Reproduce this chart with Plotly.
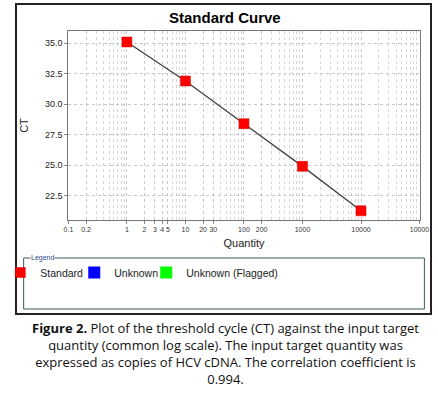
import plotly.graph_objects as go

# ---- data ----
quantity = [1, 10, 100, 1000, 10000]
ct = [35.1, 31.9, 28.4, 24.9, 21.25]
x_tickvals = [0.1, 0.2, 1, 2, 3, 4, 5, 10, 20, 30, 100, 200, 1000, 10000, 100000]
x_ticktext = ["0.1", "0.2", "1", "2", "3", "4", "5", "10", "20", "30", "100", "200", "1000", "10000", "10000"]
y_tickvals = [22.5, 25.0, 27.5, 30.0, 32.5, 35.0]
legend_names = ["Standard", "Unknown", "Unknown (Flagged)"]
legend_colors = ["#ff0000", "#0000ff", "#00ff00"]

W, H = 438, 393

def px(x):
    return x / W

def py(y):
    return (H - y) / H

minor_x = [m * 10 ** e for e in range(-1, 5) for m in range(2, 10)]

fig = go.Figure()

# regression line
fig.add_trace(go.Scatter(
    x=quantity, y=ct, mode="lines",
    line=dict(color="#404040", width=1.3),
    showlegend=False, hoverinfo="skip",
))
# standard points
fig.add_trace(go.Scatter(
    x=quantity, y=ct, mode="markers", name=legend_names[0], legend="legend",
    marker=dict(symbol="square", size=10, color=legend_colors[0],
                line=dict(color="#dd0000", width=0.5)),
))
for name, col, lg in zip(legend_names[1:], legend_colors[1:], ["legend2", "legend3"]):
    fig.add_trace(go.Scatter(
        x=[None], y=[None], mode="markers", name=name, legend=lg,
        marker=dict(symbol="square", size=12, color=col),
    ))
# invisible trace on the frame axes so the outer frame subplot is drawn
fig.add_trace(go.Scatter(x=[None], y=[None], xaxis="x2", yaxis="y2",
                         showlegend=False, hoverinfo="skip"))

fig.update_layout(
    xaxis=dict(
        type="log", range=[-1, 5],
        domain=[px(58), px(419)],
        tickmode="array", tickvals=x_tickvals, ticktext=x_ticktext, tickangle=0,
        tickfont=dict(family="Liberation Sans, Arial", size=7, color="#333"),
        ticks="outside", ticklen=3, tickcolor="#888",
        showgrid=True, gridcolor="#c8c8c8", griddash="dot", gridwidth=1,
        minor=dict(tickvals=minor_x, showgrid=True, gridcolor="#d6d6d6", griddash="dot", ticks=""),
        showline=True, linecolor="#777", linewidth=1, mirror=True,
        title=dict(text="Quantity", font=dict(family="Liberation Sans, Arial", size=11, color="#222"), standoff=6),
        zeroline=False, automargin=False,
    ),
    yaxis=dict(
        range=[20.5, 36],
        domain=[py(220), py(31)],
        tickmode="array", tickvals=y_tickvals, tickformat=".1f",
        tickfont=dict(family="Liberation Sans, Arial", size=9, color="#222"),
        ticks="outside", ticklen=3, tickcolor="#888",
        showgrid=True, gridcolor="#c8c8c8", griddash="dot", gridwidth=1,
        showline=True, linecolor="#777", linewidth=1, mirror=True,
        title=dict(text="CT", font=dict(family="Liberation Sans, Arial", size=11, color="#222"), standoff=14),
        zeroline=False, automargin=False,
    ),
    # outer frame drawn as axis lines of an empty subplot
    xaxis2=dict(domain=[px(5), px(430)], anchor="y2", range=[0, 1],
                showline=True, linecolor="#222", linewidth=1.6, mirror=True,
                showgrid=False, zeroline=False, showticklabels=False, ticks="",
                fixedrange=True, automargin=False),
    yaxis2=dict(domain=[py(313), py(5)], anchor="x2", range=[0, 1],
                showline=True, linecolor="#222", linewidth=1.6, mirror=True,
                showgrid=False, zeroline=False, showticklabels=False, ticks="",
                fixedrange=True, automargin=False),
)

# legend box
fig.add_shape(type="rect", xref="paper", yref="paper",
              x0=px(12), x1=px(424), y0=py(309), y1=py(258),
              line=dict(color="#3a5a5a", width=1), layer="above")

fig.add_annotation(text="Legend", xref="paper", yref="paper",
                   x=px(18), y=py(258), xanchor="left", yanchor="middle",
                   showarrow=False, bgcolor="white", borderpad=0,
                   font=dict(family="Liberation Sans, Arial", size=7, color="#2a4a8a"))

fig.add_annotation(text="<b>Standard Curve</b>", xref="paper", yref="paper",
                   x=0.5, y=py(18), xanchor="center", yanchor="middle",
                   showarrow=False,
                   font=dict(family="Liberation Sans, Arial", size=15, color="#000"))

caption = ("<b>Figure 2.</b> Plot of the threshold cycle (CT) against the input target<br>"
           "quantity (common log scale). The input target quantity was<br>"
           "expressed as copies of HCV cDNA. The correlation coefficient is<br>"
           "0.994.")
fig.add_annotation(text=caption, xref="paper", yref="paper",
                   x=0.5, y=py(317), xanchor="center", yanchor="top", align="center",
                   showarrow=False,
                   font=dict(family="Open Sans", size=13, color="#111"))

leg_common = dict(orientation="h", y=py(258), xanchor="left", yanchor="top",
                  font=dict(family="Liberation Sans, Arial", size=10.5, color="#222"),
                  itemwidth=30, bgcolor="rgba(0,0,0,0)", itemclick=False)

fig.update_layout(
    width=W, height=H,
    margin=dict(l=0, r=0, t=0, b=0),
    paper_bgcolor="white", plot_bgcolor="rgba(0,0,0,0)",
    legend=dict(x=px(14 - 26), **leg_common),
    legend2=dict(x=px(90 - 26), **leg_common),
    legend3=dict(x=px(164 - 26), **leg_common),
    showlegend=True,
)

fig.write_html("out.html", config={"displayModeBar": False},
               post_script="document.body.style.margin='0';")
